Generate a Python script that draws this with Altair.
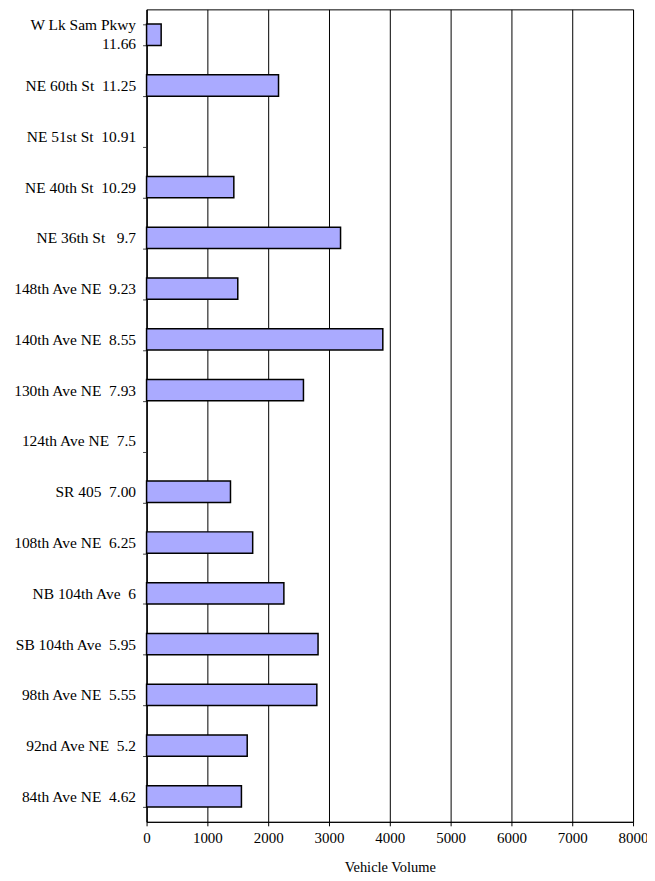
import altair as alt
import pandas as pd

categories = [
    "W Lk Sam Pkwy\u00a0|11.66",
    "NE 60th St\u00a0\u00a011.25",
    "NE 51st St\u00a0\u00a010.91",
    "NE 40th St\u00a0\u00a010.29",
    "NE 36th St\u00a0\u00a0 9.7",
    "148th Ave NE\u00a0\u00a09.23",
    "140th Ave NE\u00a0\u00a08.55",
    "130th Ave NE\u00a0\u00a07.93",
    "124th Ave NE\u00a0\u00a07.5",
    "SR 405\u00a0\u00a07.00",
    "108th Ave NE\u00a0\u00a06.25",
    "NB 104th Ave\u00a0\u00a06",
    "SB 104th Ave\u00a0\u00a05.95",
    "98th Ave NE\u00a0\u00a05.55",
    "92nd Ave NE\u00a0\u00a05.2",
    "84th Ave NE\u00a0\u00a04.62",
]
volumes = [240, 2170, None, 1435, 3190, 1500, 3885, 2580, None, 1380, 1745, 2258, 2820, 2800, 1655, 1560]
x_ticks = [0, 1000, 2000, 3000, 4000, 5000, 6000, 7000, 8000]

df = pd.DataFrame({"cat": categories, "vol": volumes})

font = "Liberation Serif, Times New Roman, serif"

chart = alt.Chart(df).mark_bar(
    color="#AAAAFF", stroke="black", strokeWidth=1.5
).encode(
    x=alt.X("vol:Q",
            scale=alt.Scale(domain=[0, 8000], nice=False),
            axis=alt.Axis(values=x_ticks, title="Vehicle Volume", grid=True,
                          format="d",
                          gridColor="black", gridOpacity=1, gridWidth=1,
                          domainColor="black", tickColor="black", tickSize=4,
                          labelFont=font, labelFontSize=15, labelColor="black",
                          labelPadding=5, titleFont=font, titleFontSize=14.5,
                          titleFontWeight="normal", titleColor="black",
                          titlePadding=15, labelFlush=False)),
    y=alt.Y("cat:N", sort=categories,
            scale=alt.Scale(paddingInner=0.58, paddingOuter=0.29),
            axis=alt.Axis(title=None, tickBand="extent", domainColor="black",
                          tickColor="#444444", tickSize=4, labelPadding=7,
                          labelFont=font, labelFontSize=15.5, labelColor="black",
                          labelLimit=300, labelLineHeight=19,
                          labelOffset={"condition": {"test": "datum.index == 0", "value": -10}, "value": 0},
                          labelExpr="split(datum.label, '|')")),
).properties(
    width=488, height=815,
    autosize=alt.AutoSizeParams(type="none"),
    padding={"left": 139, "top": 0, "right": 14, "bottom": 58},
).configure_view(
    stroke="black", strokeWidth=1
)

chart.save("out.html", embed_options={"renderer": "svg", "actions": False})
